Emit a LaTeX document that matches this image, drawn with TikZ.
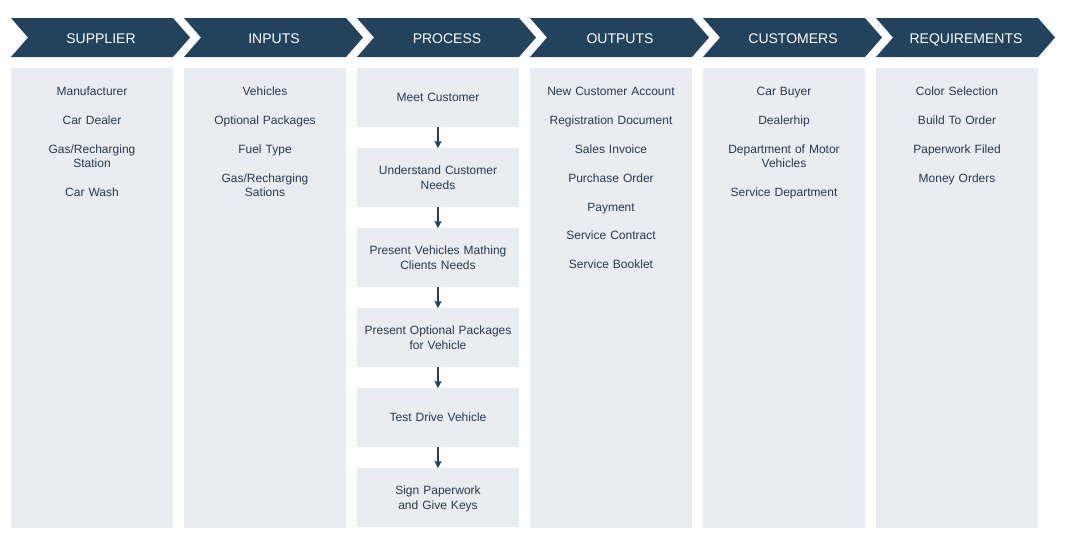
\documentclass[tikz,border=0pt]{standalone}
\usepackage{fontspec}
\setmainfont{Liberation Sans}
\usetikzlibrary{positioning,arrows.meta}
\definecolor{navy}{RGB}{35,67,93}
\definecolor{panel}{RGB}{233,236,241}
\definecolor{ink}{RGB}{40,58,78}

\begin{document}
\begin{tikzpicture}[
  x=1pt, y=1pt,
  >=Stealth,
  node distance=14.8pt,
  head/.style={fill=navy, draw=none},
  headtext/.style={text=white, inner sep=0pt, anchor=base, font=\fontsize{14}{16}\selectfont},
  column/.style={
    rectangle, fill=panel, anchor=north west, inner sep=0pt, outer sep=0pt,
    minimum width=162pt, minimum height=460pt
  },
  item/.style={
    align=center, text width=156pt, inner sep=0pt, outer sep=0pt, text=ink,
    font=\fontsize{12}{14}\selectfont,
    execute at begin node=\strut, execute at end node=\strut
  },
  stepbox/.style={
    rectangle, fill=panel, inner sep=0pt, outer sep=0pt, align=center, text width=156pt,
    minimum width=162pt, minimum height=59pt, text=ink,
    font=\fontsize{12}{15}\selectfont
  },
  arrow/.style={-{Stealth[length=7pt,width=7pt,inset=1pt]}, line width=1.2pt, draw=navy, fill=navy}
]
\useasboundingbox (0,0) rectangle (1065,-538);

\foreach \col/\ttl [count=\i from 0] in
  {sup/SUPPLIER, inp/INPUTS, proc/PROCESS, out/OUTPUTS, cus/CUSTOMERS, req/REQUIREMENTS} {
  \draw[head] (11+173*\i,-18) -- ++(162,0) -- ++(17,-19.5) -- ++(-17,-19.5)
    -- ++(-162,0) -- ++(17,19.5) -- cycle;
  \node[headtext] (h\col) at (101+173*\i,-43) {\ttl};
}

\node[column] (sup) at (11,-68) {};
\node[column] (inp) at (184,-68) {};
\node[column] (out) at (530,-68) {};
\node[column] (cus) at (703,-68) {};
\node[column] (req) at (876,-68) {};

\node (sup1) [item, below=18pt of sup.north] {Manufacturer};
\node (sup2) [item, below=of sup1] {Car Dealer};
\node (sup3) [item, below=of sup2] {Gas/Recharging\\Station};
\node (sup4) [item, below=of sup3] {Car Wash};

\node (inp1) [item, below=18pt of inp.north] {Vehicles};
\node (inp2) [item, below=of inp1] {Optional Packages};
\node (inp3) [item, below=of inp2] {Fuel Type};
\node (inp4) [item, below=of inp3] {Gas/Recharging\\Sations};

\node (p1) [stepbox, anchor=north west] at (357,-68) {Meet Customer};
\node (p2) [stepbox, below=21pt of p1] {Understand Customer\\Needs};
\node (p3) [stepbox, below=21pt of p2] {Present Vehicles Mathing\\Clients Needs};
\node (p4) [stepbox, below=21pt of p3] {Present Optional Packages\\for Vehicle};
\node (p5) [stepbox, below=21pt of p4] {Test Drive Vehicle};
\node (p6) [stepbox, text depth=15pt, below=21pt of p5] {Sign Paperwork\\and Give Keys};

\node (out1) [item, below=18pt of out.north] {New Customer Account};
\node (out2) [item, below=of out1] {Registration Document};
\node (out3) [item, below=of out2] {Sales Invoice};
\node (out4) [item, below=of out3] {Purchase Order};
\node (out5) [item, below=of out4] {Payment};
\node (out6) [item, below=of out5] {Service Contract};
\node (out7) [item, below=of out6] {Service Booklet};

\node (cus1) [item, below=18pt of cus.north] {Car Buyer};
\node (cus2) [item, below=of cus1] {Dealerhip};
\node (cus3) [item, below=of cus2] {Department of Motor\\Vehicles};
\node (cus4) [item, below=of cus3] {Service Department};

\node (req1) [item, below=18pt of req.north] {Color Selection};
\node (req2) [item, below=of req1] {Build To Order};
\node (req3) [item, below=of req2] {Paperwork Filed};
\node (req4) [item, below=of req3] {Money Orders};

\draw[arrow] (p1) -- (p2);
\draw[arrow] (p2) -- (p3);
\draw[arrow] (p3) -- (p4);
\draw[arrow] (p4) -- (p5);
\draw[arrow] (p5) -- (p6);
\end{tikzpicture}
\end{document}
